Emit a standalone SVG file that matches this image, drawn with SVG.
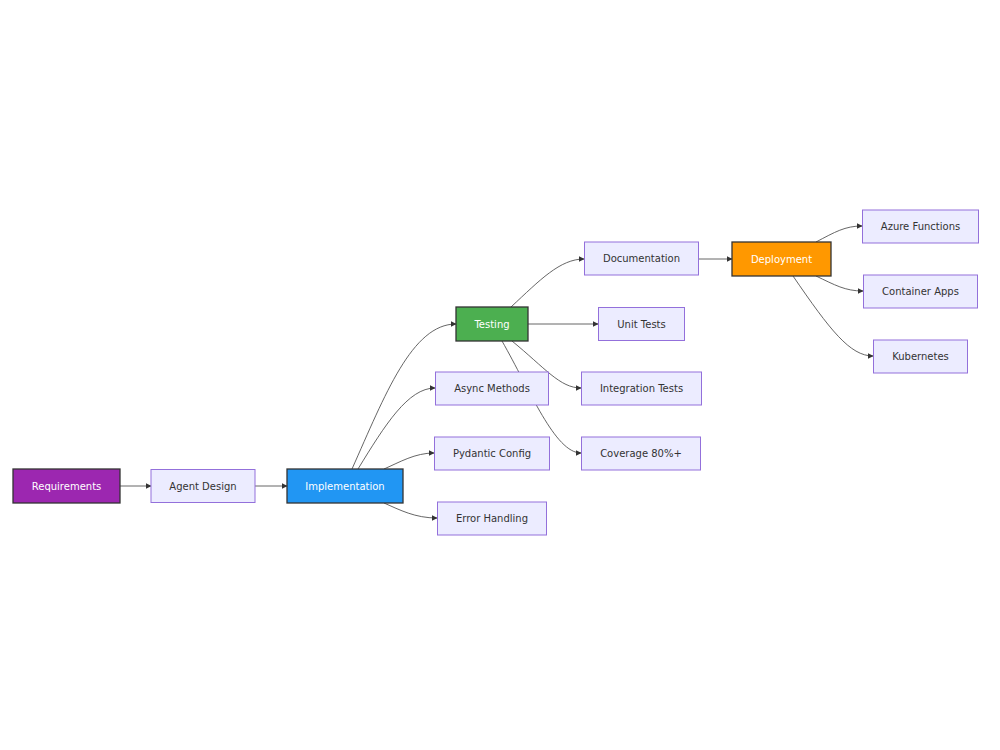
<svg xmlns="http://www.w3.org/2000/svg" width="1000" height="750" viewBox="0 0 1000 750">
<style>
.n rect{fill:#ECECFF;stroke:#9370DB;stroke-width:1}
.n text{fill:#333;font-family:"DejaVu Sans",Verdana,sans-serif;font-size:10px;text-anchor:middle;dominant-baseline:central}
.c rect{stroke:#333;stroke-width:1.3}
.c text{fill:#fff}
.purple rect{fill:#9c27b0}
.blue rect{fill:#2196f3}
.green rect{fill:#4caf50}
.orange rect{fill:#ff9800}
.e path{fill:none;stroke:#555;stroke-width:0.9;marker-end:url(#a)}
</style>
<defs>
<marker id="a" viewBox="0 0 10 10" refX="9" refY="5" markerWidth="6" markerHeight="6" orient="auto" markerUnits="userSpaceOnUse">
<path d="M0,0 L10,5 L0,10 z" fill="#333"/>
</marker>
</defs>
<rect width="1000" height="750" fill="#fff"/>
<g id="edges" class="e">
<path d="M120,486 L151,486"/>
<path d="M255,486 L287,486"/>
<path d="M352,469 C385,395 412,324 456,324"/>
<path d="M358,469 C385,425 408,388 435,388"/>
<path d="M384,469 C400,462 415,453 434,453"/>
<path d="M384,503 C400,510 415,518 437,518"/>
<path d="M511,307 C540,280 560,259 584,259"/>
<path d="M528,324 L598,324"/>
<path d="M512,341 C545,368 560,388 581,388"/>
<path d="M502,341 C530,390 555,453 581,453"/>
<path d="M698,259 L732,259"/>
<path d="M816,242 C835,232 845,226 862,226"/>
<path d="M816,276 C835,285 845,291 863,291"/>
<path d="M793,276 C830,330 850,356 873,356"/>
</g>
<g id="req" class="n c purple"><rect x="13" y="469" width="107" height="34"/><text x="66.5" y="486">Requirements</text></g>
<g id="agent" class="n"><rect x="151" y="469.5" width="104" height="33"/><text x="203" y="486">Agent Design</text></g>
<g id="impl" class="n c blue"><rect x="287" y="469" width="116" height="34"/><text x="345" y="486">Implementation</text></g>
<g id="testing" class="n c green"><rect x="456" y="307" width="72" height="34"/><text x="492" y="324">Testing</text></g>
<g id="async" class="n"><rect x="435.5" y="372" width="113" height="33"/><text x="492" y="388.5">Async Methods</text></g>
<g id="pydantic" class="n"><rect x="434.5" y="437" width="115" height="33"/><text x="492" y="453.5">Pydantic Config</text></g>
<g id="error" class="n"><rect x="437.5" y="502" width="109" height="33"/><text x="492" y="518.5">Error Handling</text></g>
<g id="docs" class="n"><rect x="584.5" y="242" width="114" height="33"/><text x="641.5" y="258.5">Documentation</text></g>
<g id="unit" class="n"><rect x="598.5" y="307.5" width="86" height="33"/><text x="641.5" y="324">Unit Tests</text></g>
<g id="integ" class="n"><rect x="581.5" y="372" width="120" height="33"/><text x="641.5" y="388.5">Integration Tests</text></g>
<g id="cov" class="n"><rect x="581.5" y="437" width="119" height="33"/><text x="641" y="453.5">Coverage 80%+</text></g>
<g id="deploy" class="n c orange"><rect x="732" y="242" width="99" height="34"/><text x="781.5" y="259">Deployment</text></g>
<g id="azure" class="n"><rect x="862.5" y="210" width="116" height="33"/><text x="920.5" y="226.5">Azure Functions</text></g>
<g id="container" class="n"><rect x="863.5" y="275" width="114" height="33"/><text x="920.5" y="291.5">Container Apps</text></g>
<g id="k8s" class="n"><rect x="873.5" y="340" width="94" height="33"/><text x="920.5" y="356.5">Kubernetes</text></g>
</svg>
